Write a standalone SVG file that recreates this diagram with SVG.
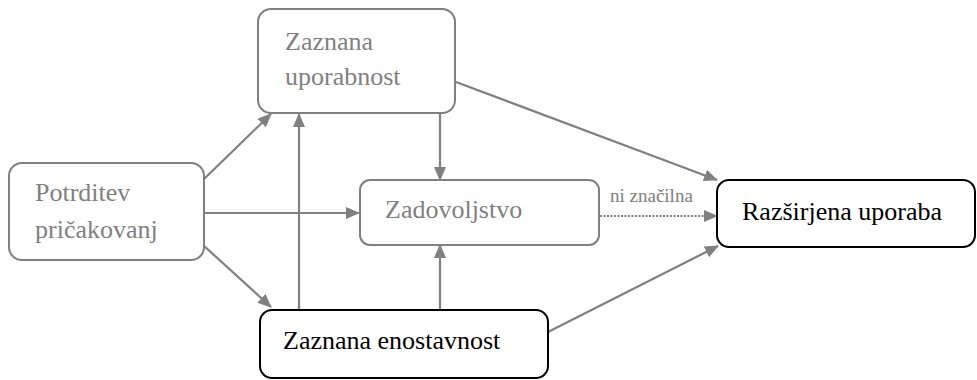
<svg xmlns="http://www.w3.org/2000/svg" width="977" height="380" viewBox="0 0 977 380">
<style>
.g{fill:#fff;stroke:#808080;stroke-width:2}
.k{fill:#fff;stroke:#000;stroke-width:2}
.c{stroke:#808080;stroke-width:2.2;fill:none}
</style>
<defs>
<marker id="a" markerUnits="userSpaceOnUse" markerWidth="14" markerHeight="12" refX="13" refY="6" orient="auto">
<path d="M0,0 L14,6 L0,12 Z" fill="#808080"/>
</marker>
</defs>
<g id="connectors">
<line class="c" x1="203" y1="180" x2="271" y2="114" marker-end="url(#a)"/>
<line class="c" x1="204" y1="213" x2="359" y2="213" marker-end="url(#a)"/>
<line class="c" x1="203" y1="245" x2="271" y2="307" marker-end="url(#a)"/>
<line class="c" x1="299" y1="310" x2="299" y2="114" marker-end="url(#a)"/>
<line class="c" x1="440" y1="113" x2="440" y2="180" marker-end="url(#a)"/>
<line class="c" x1="440" y1="310" x2="440" y2="245" marker-end="url(#a)"/>
<line class="c" x1="456" y1="82" x2="717" y2="180" marker-end="url(#a)"/>
<line class="c" x1="548" y1="332" x2="718" y2="246" marker-end="url(#a)"/>
<line class="c" x1="600" y1="216" x2="717" y2="216" stroke-dasharray="2 1.5" marker-end="url(#a)"/>
<text x="610" y="202" font-family="Liberation Serif, serif" font-size="19" fill="#808080">ni značilna</text>
</g>
<g id="potrditev" font-family="Liberation Serif, serif" font-size="26" fill="#808080">
<rect class="g" x="9" y="163" width="195" height="97" rx="13"/>
<text x="35" y="201">Potrditev</text>
<text x="35" y="238">pričakovanj</text>
</g>
<g id="uporabnost" font-family="Liberation Serif, serif" font-size="26" fill="#808080">
<rect class="g" x="258" y="9" width="197" height="104" rx="13"/>
<text x="285" y="50">Zaznana</text>
<text x="285" y="85">uporabnost</text>
</g>
<g id="zadovoljstvo" font-family="Liberation Serif, serif" font-size="26" fill="#808080">
<rect class="g" x="360" y="180" width="239" height="65" rx="10"/>
<text x="385" y="218">Zadovoljstvo</text>
</g>
<g id="enostavnost" font-family="Liberation Serif, serif" font-size="26" fill="#000">
<rect class="k" x="260" y="310" width="288" height="68" rx="12"/>
<text x="283" y="349">Zaznana enostavnost</text>
</g>
<g id="razsirjena" font-family="Liberation Serif, serif" font-size="26" fill="#000">
<rect class="k" x="717" y="180" width="258" height="67" rx="12"/>
<text x="742" y="220">Razširjena uporaba</text>
</g>
</svg>
